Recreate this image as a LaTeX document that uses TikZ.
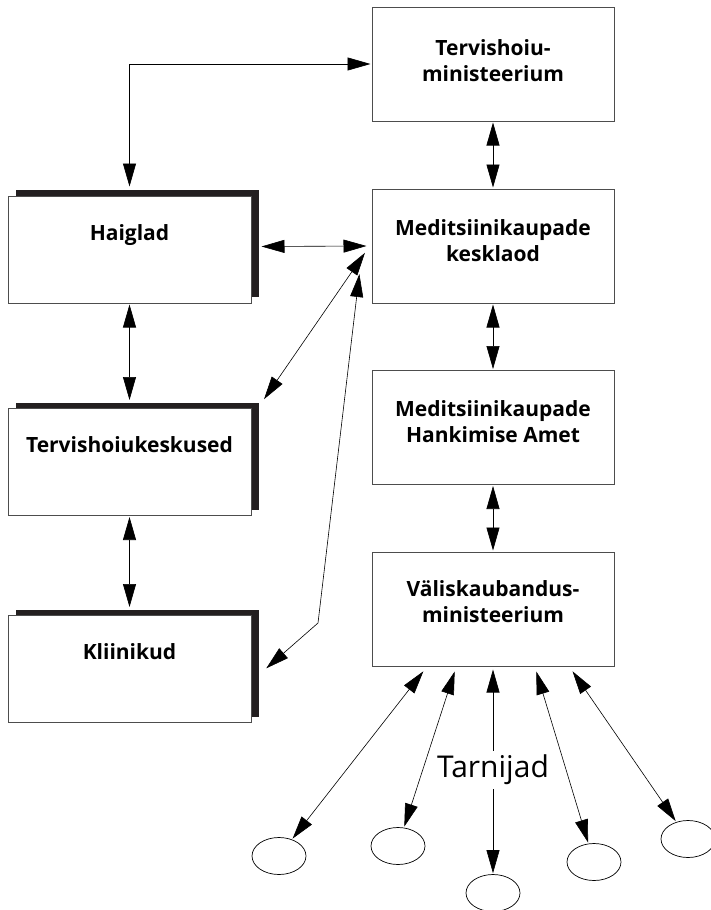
\documentclass[tikz,border=0pt]{standalone}
\usepackage{fontspec}
\setmainfont{Open Sans}
\usetikzlibrary{arrows.meta,shapes.geometric,shadows}
\definecolor{frame}{HTML}{4D4D4D}
\definecolor{shade}{HTML}{231F20}
\tikzset{
  >={Triangle[length=23pt,width=13pt]},
  orgBox/.style={draw=frame, line width=1pt, fill=white, minimum width=242pt, minimum height=114pt, inner sep=0pt, align=center, font=\bfseries\fontsize{21}{26}\selectfont, text height=41pt, text depth=12pt},
  unitBox/.style={draw=frame, line width=1pt, fill=white, minimum width=243pt, minimum height=107pt, inner sep=0pt, font=\bfseries\fontsize{21}{26}\selectfont, text height=15pt, text depth=34pt, general shadow={draw=none, fill=shade, shadow xshift=8pt, shadow yshift=6pt}},
  supplier/.style={ellipse, draw=black, line width=0.7pt, minimum width=54pt, minimum height=37pt, inner sep=0pt},
  tarnText/.style={font=\fontsize{30}{36}\selectfont, inner sep=3pt},
  linkLine/.style={line width=0.6pt, shorten <=1pt, shorten >=1pt},
  linkArrow/.style={linkLine, <->}
}

\begin{document}
\begin{tikzpicture}[x=1pt, y=-1pt]
  \useasboundingbox (0,0) rectangle (710,910);

  \node[orgBox, text depth=7pt] (tervMin) at (493,64) {Tervishoiu-\\ministeerium};
  \node[orgBox, text depth=10pt] (kesklaod) at (493,246) {Meditsiinikaupade\\kesklaod};
  \node[orgBox] (hankAmet) at (493,427.5) {Meditsiinikaupade\\Hankimise Amet};
  \node[orgBox, text depth=15pt] (valis) at (493,609) {Väliskaubandus-\\ministeerium};

  \node[unitBox] (haiglad) at (129.5,249.5) {Haiglad};
  \node[unitBox] (tervKesk) at (129.5,462) {Tervishoiukeskused};
  \node[unitBox] (kliinikud) at (129.5,669) {Kliinikud};

  \node[supplier] (sup1) at (279,856) {};
  \node[supplier] (sup2) at (398,846) {};
  \node[supplier] (sup3) at (493,893) {};
  \node[supplier] (sup4) at (594,862) {};
  \node[supplier] (sup5) at (688,839) {};
  \node[tarnText] (tarnijad) at (493,770) {Tarnijad};

  \coordinate (bend) at (318,623);

  \draw[linkArrow] ([yshift=8pt]haiglad.north) |- (tervMin.west);
  \draw[linkArrow] (tervMin) -- (kesklaod);
  \draw[linkArrow] (kesklaod) -- (hankAmet);
  \draw[linkArrow] (hankAmet) -- (valis);

  \draw[linkArrow] ([xshift=9pt,yshift=3pt]haiglad.east) -- ([xshift=-4pt]kesklaod.west);
  \draw[linkArrow] ([xshift=-6pt,yshift=-6pt]kesklaod.west) -- ([xshift=12pt,yshift=8pt]tervKesk.north east);
  \draw[linkArrow] ([xshift=-12pt,yshift=-27pt]kesklaod.west) -- (bend) -- ([xshift=14pt]kliinikud.east);
  \draw[linkArrow] (haiglad.south) -- ([yshift=7pt]tervKesk.north);
  \draw[linkArrow] (tervKesk.south) -- ([yshift=7pt]kliinikud.north);

  \draw[linkArrow] ([xshift=-69pt,yshift=-4pt]valis.south) -- (sup1);
  \draw[linkArrow] ([xshift=-38pt,yshift=-4pt]valis.south) -- (sup2);
  \draw[linkLine, <-] ([yshift=-2pt]valis.south) -- (tarnijad);
  \draw[linkLine, ->] (tarnijad) -- (sup3);
  \draw[linkArrow] ([xshift=43pt,yshift=-4pt]valis.south) -- (sup4);
  \draw[linkArrow] ([xshift=79pt,yshift=-4pt]valis.south) -- (sup5);
\end{tikzpicture}
\end{document}
